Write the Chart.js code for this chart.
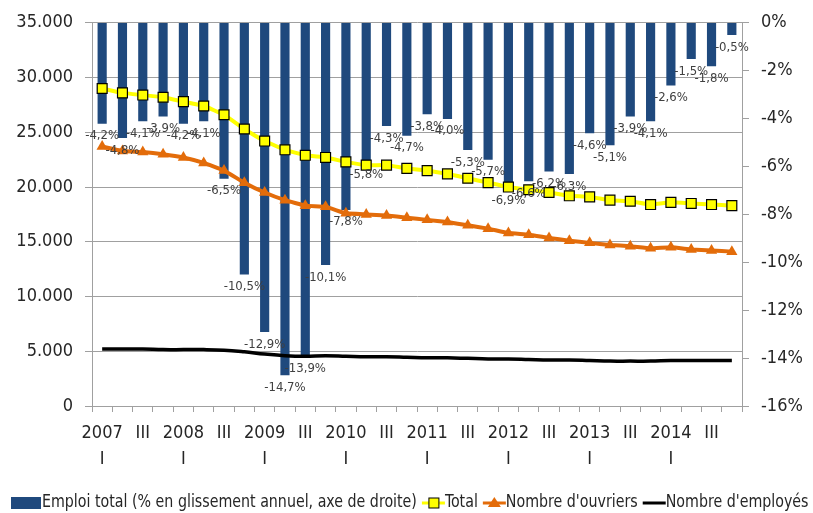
<!DOCTYPE html>
<html>
<head>
<meta charset="utf-8">
<script src="https://cdn.jsdelivr.net/npm/chart.js@4.4.1/dist/chart.umd.min.js"></script>
<style>
  html, body { margin: 0; padding: 0; background: #fff; }
  #wrap { width: 813px; height: 513px; position: relative; }
</style>
</head>
<body>
<div id="wrap"><canvas id="grafico" width="813" height="513"></canvas></div>
<script>
// ===== DADOS =====
const rotulos = [
  ["2007", "I"], "", "III", "",
  ["2008", "I"], "", "III", "",
  ["2009", "I"], "", "III", "",
  ["2010", "I"], "", "III", "",
  ["2011", "I"], "", "III", "",
  ["2012", "I"], "", "III", "",
  ["2013", "I"], "", "III", "",
  ["2014", "I"], "", "III", ""
];

// emploi total, % glissement annuel (axe de droite)
const emploiTotal = [-4.2, -4.8, -4.1, -3.9, -4.2, -4.1, -6.5, -10.5, -12.9, -14.7, -13.9, -10.1, -7.8, -5.8, -4.3, -4.7,
  -3.8, -4.0, -5.3, -5.7, -6.9, -6.6, -6.2, -6.3, -4.6, -5.1, -3.9, -4.1, -2.6, -1.5, -1.8, -0.5];

const total = [29000, 28600, 28400, 28200, 27800, 27400, 26600, 25300, 24200, 23400, 22900, 22700, 22300, 22000, 22000, 21700,
  21500, 21200, 20800, 20400, 20000, 19750, 19500, 19200, 19100, 18800, 18700, 18400, 18600, 18500, 18400, 18300];

const ouvriers = [23700, 23300, 23200, 23000, 22700, 22200, 21500, 20400, 19500, 18800, 18300, 18200, 17600, 17500, 17400, 17200,
  17000, 16800, 16500, 16200, 15800, 15650, 15350, 15100, 14900, 14700, 14600, 14400, 14500, 14300, 14200, 14100];

const employes = [5200, 5200, 5200, 5150, 5150, 5150, 5100, 4950, 4750, 4600, 4550, 4600, 4550, 4500, 4500, 4450,
  4400, 4400, 4350, 4300, 4300, 4250, 4200, 4200, 4150, 4100, 4100, 4100, 4150, 4150, 4150, 4150];

// ===== ESTILO =====
const FONTE = "'Liberation Sans Narrow', 'Arial Narrow', 'DejaVu Sans Condensed', sans-serif";
const CINZA = "#a0a0a0";
const TEXTO = "#262626";
const AZUL = "#1f497d";
const AMARELO = "#ffff00";
const LARANJA = "#e36c0a";

function milhar(v) {
  return String(v).replace(/\B(?=(\d{3})+(?!\d))/g, ".");
}

// rótulos das barras
const rotulosBarras = {
  id: "rotulosBarras",
  afterDatasetsDraw(chart) {
    const meta = chart.getDatasetMeta(0);
    const ctx = chart.ctx;
    ctx.save();
    ctx.font = "13px " + FONTE;
    ctx.fillStyle = "#404040";
    ctx.textAlign = "center";
    ctx.textBaseline = "top";
    meta.data.forEach((bar, i) => {
      const txt = emploiTotal[i].toFixed(1).replace(".", ",") + "%";
      ctx.fillText(txt, bar.x, bar.y + 6);
    });
    ctx.restore();
  }
};

// legenda embaixo (texto um pouco comprimido, como a fonte estreita do original)
const legenda = {
  id: "legenda",
  afterDraw(chart) {
    const ctx = chart.ctx;
    const y = 503;
    const esticar = 0.93;
    let x = 11;
    ctx.save();
    ctx.font = "17px " + FONTE;
    ctx.textBaseline = "middle";
    ctx.textAlign = "left";

    chart.data.datasets.forEach((ds, i) => {
      if (i === 0) {
        ctx.fillStyle = AZUL;
        ctx.fillRect(x, y - 6, 30, 12);
        x += 31;
      } else {
        ctx.strokeStyle = ds.borderColor;
        ctx.lineWidth = 3;
        ctx.beginPath();
        ctx.moveTo(x, y);
        ctx.lineTo(x + 23, y);
        ctx.stroke();
        if (ds.pointStyle === "rect") {
          ctx.fillStyle = AMARELO;
          ctx.strokeStyle = "#000";
          ctx.lineWidth = 1;
          ctx.fillRect(x + 7, y - 5, 10, 10);
          ctx.strokeRect(x + 7, y - 5, 10, 10);
        } else if (ds.pointStyle === "triangle") {
          ctx.fillStyle = LARANJA;
          ctx.beginPath();
          ctx.moveTo(x + 11.5, y - 6);
          ctx.lineTo(x + 18, y + 4);
          ctx.lineTo(x + 5, y + 4);
          ctx.closePath();
          ctx.fill();
        }
        x += 23;
      }
      ctx.fillStyle = TEXTO;
      ctx.save();
      ctx.translate(x, y);
      ctx.scale(esticar, 1);
      ctx.fillText(ds.label, 0, 0);
      ctx.restore();
      x += ctx.measureText(ds.label).width * esticar + 5;
    });
    ctx.restore();
  }
};

// ===== GRÁFICO =====
new Chart(document.getElementById("grafico"), {
  data: {
    labels: rotulos,
    datasets: [
      {
        type: "bar",
        label: "Emploi total (% en glissement annuel, axe de droite)",
        data: emploiTotal,
        yAxisID: "yDir",
        backgroundColor: AZUL,
        barThickness: 8.5,
        order: 4
      },
      {
        type: "line",
        label: "Total",
        data: total,
        yAxisID: "yEsq",
        borderColor: AMARELO,
        borderWidth: 4,
        pointStyle: "rect",
        pointRadius: 7,
        pointBackgroundColor: AMARELO,
        pointBorderColor: "#000",
        pointBorderWidth: 1.2,
        tension: 0.1,
        order: 2
      },
      {
        type: "line",
        label: "Nombre d'ouvriers",
        data: ouvriers,
        yAxisID: "yEsq",
        borderColor: LARANJA,
        borderWidth: 4,
        pointStyle: "triangle",
        pointRadius: 6.5,
        pointBackgroundColor: LARANJA,
        pointBorderColor: LARANJA,
        pointBorderWidth: 0,
        tension: 0.1,
        order: 3
      },
      {
        type: "line",
        label: "Nombre d'employés",
        data: employes,
        yAxisID: "yEsq",
        borderColor: "#000",
        borderWidth: 3.5,
        pointRadius: 0,
        tension: 0.4,
        order: 1
      }
    ]
  },
  options: {
    responsive: false,
    animation: false,
    layout: { padding: { top: 22, bottom: 43, left: 0, right: 0 } },
    plugins: {
      legend: { display: false },
      tooltip: { enabled: false }
    },
    scales: {
      x: {
        offset: true,
        grid: { offset: true, drawOnChartArea: false, color: CINZA, tickLength: 6 },
        border: { color: CINZA },
        ticks: {
          autoSkip: false,
          maxRotation: 0,
          color: TEXTO,
          padding: 8,
          font: { family: FONTE, size: 18, lineHeight: 1.45 }
        },
        afterFit(s) { s.height = 64; }
      },
      yEsq: {
        position: "left",
        min: 0,
        max: 35000,
        ticks: {
          stepSize: 5000,
          color: TEXTO,
          padding: 12,
          font: { family: FONTE, size: 18 },
          callback: v => milhar(v)
        },
        grid: { color: CINZA, tickLength: 7 },
        border: { color: CINZA },
        afterFit(s) { s.width = 92; }
      },
      yDir: {
        position: "right",
        min: -16,
        max: 0,
        ticks: {
          stepSize: 2,
          color: TEXTO,
          padding: 12,
          font: { family: FONTE, size: 18 },
          callback: v => v + "%"
        },
        grid: { drawOnChartArea: false, color: CINZA, tickLength: 7 },
        border: { color: CINZA },
        afterFit(s) { s.width = 71; }
      }
    }
  },
  plugins: [rotulosBarras, legenda]
});
</script>
</body>
</html>
